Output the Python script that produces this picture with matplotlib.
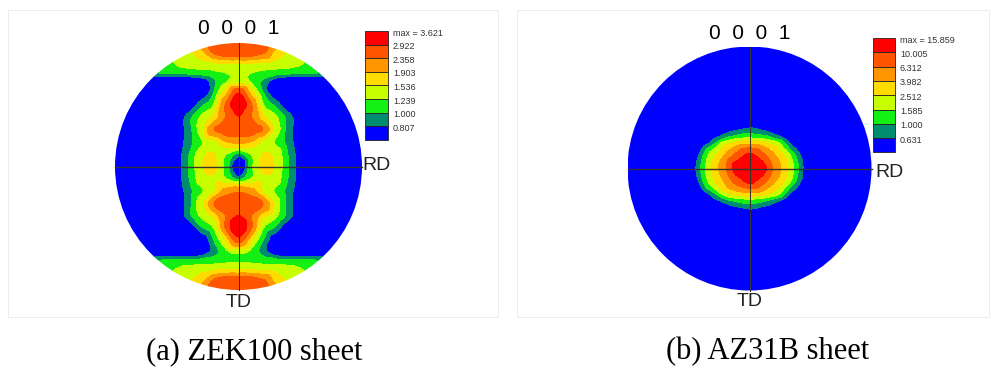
import numpy as np
import matplotlib.pyplot as plt
import matplotlib.tri as mtri
from matplotlib.patches import Circle, Rectangle

W, H = 994, 374

# contour colours, lowest band first
band_colors = ['#0000ff', '#008c6e', '#14f014', '#c8ff00',
               '#ffdc00', '#ff9600', '#ff5500', '#ff0000']

# ZEK100 (0001) pole figure, intensities on a grid (rows run from top to bottom)
zek_x = [-1, -0.8, -0.6, -0.48, -0.4, -0.3, -0.2, -0.1, 0, 0.1, 0.2, 0.3, 0.4, 0.48, 0.6, 0.8, 1]
zek_y = [1, 0.92, 0.84, 0.76, 0.68, 0.6, 0.5, 0.4, 0.3, 0.2, 0.1, 0,
         -0.1, -0.2, -0.3, -0.4, -0.5, -0.6, -0.68, -0.76, -0.84, -0.92, -1]
zek_vals = [
    [1.0, 1.15, 1.35, 1.6, 1.8, 2.15, 2.55, 2.75, 2.8, 2.75, 2.55, 2.15, 1.8, 1.6, 1.35, 1.15, 1.0],
    [0.95, 1.05, 1.2, 1.35, 1.5, 1.75, 2.4, 2.7, 2.75, 2.7, 2.4, 1.75, 1.5, 1.35, 1.2, 1.05, 0.95],
    [0.95, 1.0, 1.15, 1.3, 1.38, 1.45, 1.52, 1.58, 1.6, 1.58, 1.52, 1.45, 1.38, 1.3, 1.15, 1.0, 0.95],
    [0.9, 0.95, 1.03, 1.06, 1.08, 1.12, 1.18, 1.25, 1.3, 1.25, 1.18, 1.12, 1.08, 1.06, 1.03, 0.95, 0.9],
    [0.45, 0.45, 0.45, 0.45, 0.45, 0.6, 0.95, 1.25, 1.45, 1.25, 0.95, 0.6, 0.45, 0.45, 0.45, 0.45, 0.45],
    [0.45, 0.45, 0.45, 0.45, 0.45, 0.6, 1.0, 1.75, 2.85, 1.75, 1.0, 0.6, 0.45, 0.45, 0.45, 0.45, 0.45],
    [0.45, 0.45, 0.45, 0.5, 0.6, 0.95, 1.25, 2.45, 3.621, 2.45, 1.25, 0.95, 0.6, 0.5, 0.45, 0.45, 0.45],
    [0.45, 0.45, 0.5, 0.7, 0.92, 1.3, 1.65, 2.4, 2.9, 2.4, 1.65, 1.3, 0.92, 0.7, 0.5, 0.45, 0.45],
    [0.45, 0.45, 0.5, 0.7, 0.92, 1.45, 2.35, 2.7, 2.7, 2.7, 2.35, 1.45, 0.92, 0.7, 0.5, 0.45, 0.45],
    [0.45, 0.45, 0.5, 0.72, 0.92, 1.2, 1.45, 1.9, 2.0, 1.9, 1.45, 1.2, 0.92, 0.72, 0.5, 0.45, 0.45],
    [0.45, 0.45, 0.5, 0.75, 1.0, 1.45, 1.55, 1.25, 0.95, 1.25, 1.55, 1.45, 1.0, 0.75, 0.5, 0.45, 0.45],
    [0.45, 0.45, 0.5, 0.75, 1.02, 1.5, 1.62, 1.15, 0.45, 1.15, 1.62, 1.5, 1.02, 0.75, 0.5, 0.45, 0.45],
    [0.45, 0.45, 0.5, 0.75, 1.0, 1.4, 1.5, 1.25, 0.95, 1.25, 1.5, 1.4, 1.0, 0.75, 0.5, 0.45, 0.45],
    [0.45, 0.45, 0.5, 0.72, 0.92, 1.2, 1.5, 2.1, 2.3, 2.1, 1.5, 1.2, 0.92, 0.72, 0.5, 0.45, 0.45],
    [0.45, 0.45, 0.5, 0.7, 0.92, 1.45, 2.35, 2.7, 2.7, 2.7, 2.35, 1.45, 0.92, 0.7, 0.5, 0.45, 0.45],
    [0.45, 0.45, 0.5, 0.7, 0.92, 1.3, 1.65, 2.4, 2.95, 2.4, 1.65, 1.3, 0.92, 0.7, 0.5, 0.45, 0.45],
    [0.45, 0.45, 0.45, 0.5, 0.6, 0.95, 1.25, 2.45, 3.6, 2.45, 1.25, 0.95, 0.6, 0.5, 0.45, 0.45, 0.45],
    [0.45, 0.45, 0.45, 0.45, 0.45, 0.6, 1.0, 1.6, 2.6, 1.6, 1.0, 0.6, 0.45, 0.45, 0.45, 0.45, 0.45],
    [0.45, 0.45, 0.45, 0.45, 0.45, 0.55, 0.9, 1.2, 1.4, 1.2, 0.9, 0.55, 0.45, 0.45, 0.45, 0.45, 0.45],
    [0.9, 0.95, 1.02, 1.04, 1.05, 1.08, 1.12, 1.18, 1.2, 1.18, 1.12, 1.08, 1.05, 1.04, 1.02, 0.95, 0.9],
    [0.95, 1.0, 1.15, 1.3, 1.38, 1.45, 1.52, 1.58, 1.6, 1.58, 1.52, 1.45, 1.38, 1.3, 1.15, 1.0, 0.95],
    [0.95, 1.05, 1.2, 1.35, 1.5, 1.75, 2.4, 2.7, 2.75, 2.7, 2.4, 1.75, 1.5, 1.35, 1.2, 1.05, 0.95],
    [1.0, 1.15, 1.35, 1.6, 1.8, 2.15, 2.55, 2.75, 2.8, 2.75, 2.55, 2.15, 1.8, 1.6, 1.35, 1.15, 1.0],
]
zek_levels = [0.807, 1.000, 1.239, 1.536, 1.903, 2.358, 2.922]
zek_max = 3.621

# AZ31B (0001) pole figure
az_x = [-1, -0.5, -0.4, -0.3, -0.2, -0.1, 0, 0.1, 0.2, 0.3, 0.4, 0.5, 1]
az_y = [1, 0.4, 0.3, 0.25, 0.2, 0.1, 0, -0.1, -0.2, -0.25, -0.3, -0.4, -1]
az_vals = [
    [0.1, 0.1, 0.1, 0.1, 0.1, 0.1, 0.1, 0.1, 0.1, 0.1, 0.1, 0.1, 0.1],
    [0.1, 0.12, 0.15, 0.18, 0.22, 0.28, 0.3, 0.28, 0.22, 0.18, 0.15, 0.12, 0.1],
    [0.1, 0.15, 0.2, 0.3, 0.53, 0.75, 0.9, 0.75, 0.53, 0.3, 0.2, 0.15, 0.1],
    [0.1, 0.15, 0.25, 0.55, 1.0, 1.45, 1.6, 1.45, 1.0, 0.55, 0.25, 0.15, 0.1],
    [0.1, 0.2, 0.38, 0.93, 2.3, 3.4, 4.0, 3.4, 2.3, 0.93, 0.38, 0.2, 0.1],
    [0.1, 0.27, 0.8, 2.3, 4.4, 8.0, 11.5, 8.0, 4.4, 2.3, 0.8, 0.27, 0.1],
    [0.1, 0.3, 1.0, 2.9, 5.8, 12.8, 15.859, 12.8, 5.8, 2.9, 1.0, 0.3, 0.1],
    [0.1, 0.27, 0.8, 2.3, 4.4, 8.0, 11.5, 8.0, 4.4, 2.3, 0.8, 0.27, 0.1],
    [0.1, 0.2, 0.38, 0.93, 2.3, 3.4, 4.0, 3.4, 2.3, 0.93, 0.38, 0.2, 0.1],
    [0.1, 0.15, 0.25, 0.55, 1.0, 1.45, 1.6, 1.45, 1.0, 0.55, 0.25, 0.15, 0.1],
    [0.1, 0.15, 0.2, 0.3, 0.53, 0.75, 0.9, 0.75, 0.53, 0.3, 0.2, 0.15, 0.1],
    [0.1, 0.12, 0.15, 0.18, 0.22, 0.28, 0.3, 0.28, 0.22, 0.18, 0.15, 0.12, 0.1],
    [0.1, 0.1, 0.1, 0.1, 0.1, 0.1, 0.1, 0.1, 0.1, 0.1, 0.1, 0.1, 0.1],
]
az_levels = [0.631, 1.000, 1.585, 2.512, 3.982, 6.312, 10.005]
az_max = 15.859

sans = ['Liberation Sans', 'DejaVu Sans']

fig = plt.figure(figsize=(W / 100, H / 100), dpi=100)

# overlay in pixel units: panel frames, legends, cross hairs
# (drawn above the pole figure axes)
bg = fig.add_axes([0, 0, 1, 1])
bg.set_xlim(0, W)
bg.set_ylim(H, 0)
bg.axis('off')
bg.set_zorder(3)
bg.add_patch(Rectangle((8, 10), 490, 307, fill=False, ec='#ededed', lw=0.8))
bg.add_patch(Rectangle((517, 10), 472, 307, fill=False, ec='#ededed', lw=0.8))


def pole_figure(cx, cy, r, xs, ys, vals, levels, vmax):
    ax = fig.add_axes([(cx - r) / W, 1 - (cy + r) / H, 2 * r / W, 2 * r / H])
    ax.set_xlim(-1, 1)
    ax.set_ylim(-1, 1)
    ax.axis('off')

    X, Y = np.meshgrid(xs, ys)
    z = np.array(vals).ravel()
    tri = mtri.Triangulation(X.ravel(), Y.ravel())
    interp = mtri.CubicTriInterpolator(tri, z, kind='geom')
    fine_tri, fine_z = mtri.UniformTriRefiner(tri).refine_field(z, triinterpolator=interp, subdiv=3)
    bounds = [-1e3] + list(levels) + [1e3]
    cs = ax.tricontourf(fine_tri, fine_z, levels=bounds, colors=band_colors)
    disk = Circle((0, 0), 1, transform=ax.transData)
    cs.set_clip_path(disk)

    # cross hairs through the pole
    bg.plot([cx - r, cx + r], [cy, cy], color='#333333', lw=1.0)
    bg.plot([cx, cx], [cy - r, cy + r], color='#333333', lw=0.75)
    return ax


def legend_boxes(x0, y0, bw, bh, levels, vmax):
    for i, c in enumerate(band_colors[::-1]):
        bg.add_patch(Rectangle((x0, y0 + i * bh), bw, bh, fc=c, ec='#222222', lw=0.6))
    labels = ['max = %.3f' % vmax] + ['%.3f' % v for v in levels[::-1]]
    for i, lab in enumerate(labels):
        bg.text(x0 + bw + 5, y0 + i * bh + 2, lab, fontsize=6.5, color='#333333',
                ha='left', va='center', family=sans)


ax1 = pole_figure(238.5, 166.5, 123.5, zek_x, zek_y, zek_vals, zek_levels, zek_max)
ax1.text(0, 1.12, '0  0  0  1', fontsize=15, ha='center', va='center', family=sans)
ax1.text(1.0, 0.01, 'RD', fontsize=14, ha='left', va='center', family=sans, color='#222222')
ax1.text(0, -1.1, 'TD', fontsize=14, ha='center', va='center', family=sans, color='#222222')
legend_boxes(365, 31, 23, 13.6, zek_levels, zek_max)

ax2 = pole_figure(749.5, 168.5, 122, az_x, az_y, az_vals, az_levels, az_max)
ax2.text(0, 1.11, '0  0  0  1', fontsize=15, ha='center', va='center', family=sans)
ax2.text(1.03, -0.03, 'RD', fontsize=14, ha='left', va='center', family=sans, color='#222222')
ax2.text(0, -1.09, 'TD', fontsize=14, ha='center', va='center', family=sans, color='#222222')
legend_boxes(873, 38, 22, 14.3, az_levels, az_max)

fig.text(254 / W, 1 - 352 / H, '(a) ZEK100 sheet', fontsize=22, ha='center', va='center',
         family=['Liberation Serif', 'DejaVu Serif'])
fig.text(768 / W, 1 - 352 / H, '(b) AZ31B sheet', fontsize=22, ha='center', va='center',
         family=['Liberation Serif', 'DejaVu Serif'])

fig.savefig('out.png', dpi=100)
